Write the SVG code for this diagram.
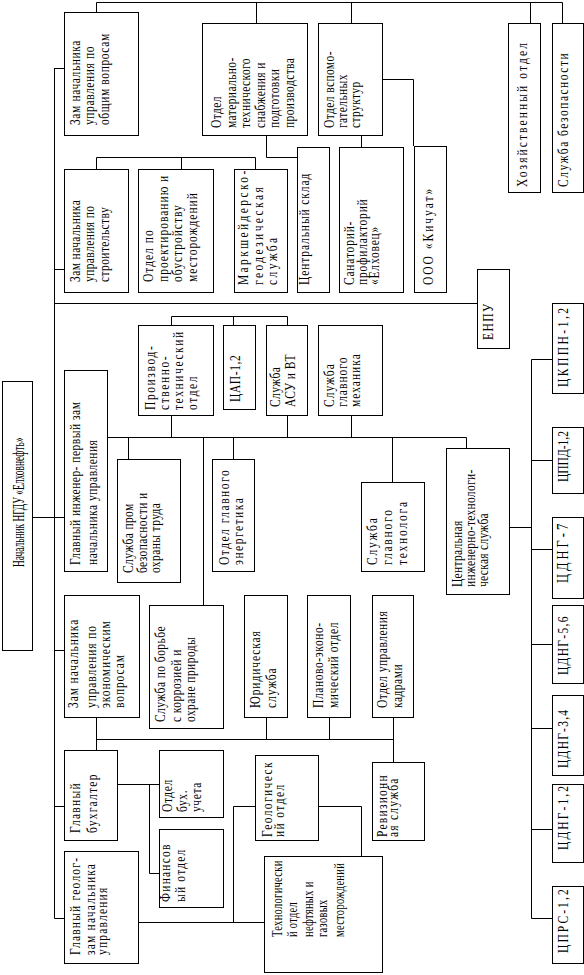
<svg xmlns="http://www.w3.org/2000/svg" width="584" height="975" viewBox="0 0 584 975">
<style>
.b{fill:#fff;stroke:#000;stroke-width:1}
.c{fill:none;stroke:#000;stroke-width:1}
.t{font-family:"Liberation Serif","Times New Roman",serif;font-size:11.5px;fill:#000}
</style>
<rect width="584" height="975" fill="#fff"/>
<g id="connectors">
<path class="c" d="M96.5 2.5H562.5M96.5 2.5V12M256.5 2.5V23M351.5 2.5V23M530.5 2.5V23M562.5 2.5V23"/>
<path class="c" d="M54.5 68V918.5M54.5 68.5H64M54.5 269.5H64M54.5 303.5H477M32 517.5H64M54.5 650.5H64M54.5 806.5H64M54.5 918.5H64"/>
<path class="c" d="M96.5 157.5H255.5M96.5 157.5V169M181.5 157.5V169M255.5 157.5V169"/>
<path class="c" d="M266.5 135V157.5H297M361.5 135V147M382 79.5H413.5V146"/>
<path class="c" d="M107 437.5H466.5V448M171.5 415V437.5M287.5 415V437.5M351.5 415V437.5M128.5 437.5V459M203.5 437.5V605M233.5 437.5V459M392.5 437.5V482"/>
<path class="c" d="M171.5 316.5H287.5M171.5 316.5V325M233.5 316.5V325M287.5 316.5V325"/>
<path class="c" d="M509 527.5H531.5M531.5 359.5V918.5M531.5 359.5H552M531.5 460.5H552M531.5 549.5H552M531.5 644.5H552M531.5 728.5H552M531.5 829.5H552M531.5 918.5H552"/>
<path class="c" d="M96.5 717V750M96.5 739.5H393.5M266.5 717V739.5M329.5 717V739.5M393.5 717V762"/>
<path class="c" d="M117 784.5H159M149.5 784.5V873.5H159"/>
<path class="c" d="M138 922.5H264M233.5 922.5V806.5H255M318 806.5H361.5V856"/>
</g>
<g id="nachalnik"><rect class="b" x="2.5" y="381.5" width="30" height="269"/>
<text class="t" style="font-size:9.4px" transform="translate(24,567) rotate(-90) scale(1,1.7)"><tspan x="0" y="0">Начальник НГДУ «Елховнефть»</tspan></text></g>
<g id="zam-obsh"><rect class="b" x="64.5" y="12.5" width="74" height="123"/>
<text class="t" letter-spacing="0.6" transform="translate(80,125) rotate(-90) scale(1,1.3)"><tspan x="0" y="0">Зам начальника</tspan><tspan x="0" y="11.15">управления по</tspan><tspan x="0" y="22.3">общим вопросам</tspan></text></g>
<g id="zam-stroi"><rect class="b" x="64.5" y="169.5" width="64" height="123"/>
<text class="t" letter-spacing="0.4" transform="translate(80,282) rotate(-90) scale(1,1.3)"><tspan x="0" y="0">Зам начальника</tspan><tspan x="0" y="11.15">управления по</tspan><tspan x="0" y="22.3">строительству</tspan></text></g>
<g id="proekt"><rect class="b" x="138.5" y="169.5" width="75" height="123"/>
<text class="t" letter-spacing="1" transform="translate(153,282) rotate(-90) scale(1,1.3)"><tspan x="0" y="0">Отдел по</tspan><tspan x="0" y="11.3">проектированию и</tspan><tspan x="0" y="22.6">обустройству</tspan><tspan x="0" y="33.9">месторождений</tspan></text></g>
<g id="marksh"><rect class="b" x="234.5" y="169.5" width="53" height="123"/>
<text class="t" letter-spacing="2.4" transform="translate(248,285) rotate(-90) scale(1,1.3)"><tspan x="0" y="0">Маркшейдерско-</tspan><tspan x="0" y="11.5">геодезическая</tspan><tspan x="0" y="22.3">служба</tspan></text></g>
<g id="mto"><rect class="b" x="202.5" y="23.5" width="105" height="112"/>
<text class="t" letter-spacing="0.4" transform="translate(221,128) rotate(-90) scale(1,1.3)"><tspan x="0" y="0">Отдел</tspan><tspan x="0" y="11.23">материально-</tspan><tspan x="0" y="22.46">технического</tspan><tspan x="0" y="33.7">снабжения и</tspan><tspan x="0" y="44.9">подготовки</tspan><tspan x="0" y="56.2">производства</tspan></text></g>
<g id="sklad"><rect class="b" x="297.5" y="147.5" width="32" height="145"/>
<text class="t" letter-spacing="0.9" transform="translate(309,285) rotate(-90) scale(1,1.3)"><tspan x="0" y="0">Центральный склад</tspan></text></g>
<g id="vspom"><rect class="b" x="318.5" y="23.5" width="64" height="112"/>
<text class="t" letter-spacing="0.4" transform="translate(334,128) rotate(-90) scale(1,1.3)"><tspan x="0" y="0">Отдел вспомо-</tspan><tspan x="0" y="10">гательных</tspan><tspan x="0" y="20">структур</tspan></text></g>
<g id="sanat"><rect class="b" x="339.5" y="147.5" width="64" height="145"/>
<text class="t" letter-spacing="0.8" transform="translate(354,285) rotate(-90) scale(1,1.3)"><tspan x="0" y="0">Санаторий-</tspan><tspan x="0" y="10">профилакторий</tspan><tspan x="0" y="19.2">«Елховец»</tspan></text></g>
<g id="kichuat"><rect class="b" x="414.5" y="146.5" width="32" height="146"/>
<text class="t" letter-spacing="2" transform="translate(433,285) rotate(-90) scale(1,1.3)"><tspan x="0" y="0">ООО «Кичуат»</tspan></text></g>
<g id="hoz"><rect class="b" x="508.5" y="23.5" width="32" height="169"/>
<text class="t" letter-spacing="2.1" transform="translate(527,187) rotate(-90) scale(1,1.3)"><tspan x="0" y="0">Хозяйственный отдел</tspan></text></g>
<g id="sb"><rect class="b" x="552.5" y="23.5" width="31" height="169"/>
<text class="t" letter-spacing="1.5" transform="translate(568,187) rotate(-90) scale(1,1.3)"><tspan x="0" y="0">Служба безопасности</tspan></text></g>
<g id="enpu"><rect class="b" x="477.5" y="269.5" width="32" height="79"/>
<text class="t" letter-spacing="1.5" transform="translate(493,340) rotate(-90) scale(1,1.3)"><tspan x="0" y="0">ЕНПУ</tspan></text></g>
<g id="gl-ing"><rect class="b" x="64.5" y="370.5" width="43" height="201"/>
<text class="t" letter-spacing="0.5" transform="translate(80,565) rotate(-90) scale(1,1.3)"><tspan x="0" y="0">Главный инженер- первый зам</tspan><tspan x="0" y="13.1">начальника управления</tspan></text></g>
<g id="pto"><rect class="b" x="138.5" y="325.5" width="75" height="90"/>
<text class="t" letter-spacing="1.6" transform="translate(155,410) rotate(-90) scale(1,1.3)"><tspan x="0" y="0">Производ-</tspan><tspan x="0" y="10.77">ственно-</tspan><tspan x="0" y="21.5">технический</tspan><tspan x="0" y="32.3">отдел</tspan></text></g>
<g id="cap"><rect class="b" x="223.5" y="325.5" width="32" height="84"/>
<text class="t" letter-spacing="0.6" transform="translate(240,402) rotate(-90) scale(1,1.3)"><tspan x="0" y="0">ЦАП-1,2</tspan></text></g>
<g id="asu"><rect class="b" x="266.5" y="325.5" width="41" height="90"/>
<text class="t" letter-spacing="0.4" transform="translate(280,407) rotate(-90) scale(1,1.3)"><tspan x="0" y="0">Служба</tspan><tspan x="0" y="11.5">АСУ и ВТ</tspan></text></g>
<g id="meh"><rect class="b" x="318.5" y="325.5" width="64" height="90"/>
<text class="t" letter-spacing="1" transform="translate(334,407) rotate(-90) scale(1,1.3)"><tspan x="0" y="0">Служба</tspan><tspan x="0" y="10">главного</tspan><tspan x="0" y="20">механика</tspan></text></g>
<g id="prom"><rect class="b" x="117.5" y="459.5" width="63" height="123"/>
<text class="t" letter-spacing="0.4" transform="translate(133,573) rotate(-90) scale(1,1.3)"><tspan x="0" y="0">Служба пром</tspan><tspan x="0" y="10.8">безопасности и</tspan><tspan x="0" y="20.8">охраны труда</tspan></text></g>
<g id="energ"><rect class="b" x="212.5" y="459.5" width="42" height="112"/>
<text class="t" letter-spacing="1.5" transform="translate(229,565) rotate(-90) scale(1,1.3)"><tspan x="0" y="0">Отдел главного</tspan><tspan x="0" y="10.8">энергетика</tspan></text></g>
<g id="tehnolog"><rect class="b" x="361.5" y="482.5" width="63" height="89"/>
<text class="t" letter-spacing="1.8" transform="translate(377,565) rotate(-90) scale(1,1.3)"><tspan x="0" y="0">Служба</tspan><tspan x="0" y="11.5">главного</tspan><tspan x="0" y="23">технолога</tspan></text></g>
<g id="cits"><rect class="b" x="446.5" y="448.5" width="63" height="146"/>
<text class="t" letter-spacing="0.3" transform="translate(462,587) rotate(-90) scale(1,1.3)"><tspan x="0" y="0">Центральная</tspan><tspan x="0" y="10">инженерно-технологи-</tspan><tspan x="0" y="20">ческая служба</tspan></text></g>
<g id="korr"><rect class="b" x="149.5" y="605.5" width="74" height="123"/>
<text class="t" letter-spacing="0.45" transform="translate(165,722) rotate(-90) scale(1,1.3)"><tspan x="0" y="0">Служба по борьбе</tspan><tspan x="0" y="12.3">с коррозией и</tspan><tspan x="0" y="23.1">охране природы</tspan></text></g>
<g id="zam-econ"><rect class="b" x="64.5" y="595.5" width="75" height="122"/>
<text class="t" letter-spacing="0.9" transform="translate(78,708) rotate(-90) scale(1,1.3)"><tspan x="0" y="0">Зам начальника</tspan><tspan x="0" y="13.8">управления по</tspan><tspan x="0" y="24.6">экономическим</tspan><tspan x="0" y="35.4">вопросам</tspan></text></g>
<g id="jur"><rect class="b" x="244.5" y="595.5" width="43" height="122"/>
<text class="t" letter-spacing="0.9" transform="translate(260,708) rotate(-90) scale(1,1.3)"><tspan x="0" y="0">Юридическая</tspan><tspan x="0" y="12.3">служба</tspan></text></g>
<g id="plan"><rect class="b" x="307.5" y="595.5" width="43" height="122"/>
<text class="t" letter-spacing="0.6" transform="translate(323,708) rotate(-90) scale(1,1.3)"><tspan x="0" y="0">Планово-эконо-</tspan><tspan x="0" y="11.5">мический отдел</tspan></text></g>
<g id="kadr"><rect class="b" x="372.5" y="595.5" width="41" height="122"/>
<text class="t" letter-spacing="0.5" transform="translate(387,708) rotate(-90) scale(1,1.3)"><tspan x="0" y="0">Отдел управления</tspan><tspan x="0" y="11.5">кадрами</tspan></text></g>
<g id="buh"><rect class="b" x="64.5" y="750.5" width="53" height="90"/>
<text class="t" letter-spacing="1.25" transform="translate(80,833) rotate(-90) scale(1,1.3)"><tspan x="0" y="0">Главный</tspan><tspan x="0" y="13.1">бухгалтер</tspan></text></g>
<g id="buhuch"><rect class="b" x="159.5" y="750.5" width="64" height="67"/>
<text class="t" letter-spacing="0.6" transform="translate(172,812) rotate(-90) scale(1,1.3)"><tspan x="0" y="0">Отдел</tspan><tspan x="0" y="11.2">бух.</tspan><tspan x="0" y="22.3">учета</tspan></text></g>
<g id="fin"><rect class="b" x="159.5" y="829.5" width="64" height="78"/>
<text class="t" letter-spacing="1.2" transform="translate(170,902) rotate(-90) scale(1,1.3)"><tspan x="0" y="0">Финансов</tspan><tspan x="0" y="11.5">ый отдел</tspan></text></g>
<g id="gl-geolog"><rect class="b" x="64.5" y="851.5" width="74" height="112"/>
<text class="t" letter-spacing="1.2" transform="translate(80,955) rotate(-90) scale(1,1.3)"><tspan x="0" y="0">Главный геолог-</tspan><tspan x="0" y="11.5">зам начальника</tspan><tspan x="0" y="20.8">управления</tspan></text></g>
<g id="geol-otd"><rect class="b" x="255.5" y="755.5" width="63" height="85"/>
<text class="t" letter-spacing="1.4" transform="translate(272,837) rotate(-90) scale(1,1.3)"><tspan x="0" y="0">Геологическ</tspan><tspan x="0" y="9.2">ий отдел</tspan></text></g>
<g id="tehn-otd"><rect class="b" x="264.5" y="856.5" width="118" height="116"/>
<text class="t" style="font-size:10.5px" letter-spacing="0.3" transform="translate(282,937) rotate(-90) scale(1,1.3)"><tspan x="0" y="0">Технологически</tspan><tspan x="0" y="11.5">й отдел</tspan><tspan x="0" y="23.8">нефтяных и</tspan><tspan x="0" y="34.6">газовых</tspan><tspan x="0" y="47.7">месторождений</tspan></text></g>
<g id="reviz"><rect class="b" x="372.5" y="762.5" width="52" height="78"/>
<text class="t" letter-spacing="1.25" transform="translate(387,837) rotate(-90) scale(1,1.3)"><tspan x="0" y="0">Ревизионн</tspan><tspan x="0" y="8.5">ая служба</tspan></text></g>
<g id="ckppn"><rect class="b" x="552.5" y="303.5" width="31" height="90"/>
<text class="t" letter-spacing="2.5" transform="translate(568,387) rotate(-90) scale(1,1.3)"><tspan x="0" y="0">ЦКППН-1,2</tspan></text></g>
<g id="cppd"><rect class="b" x="552.5" y="427.5" width="31" height="66"/>
<text class="t" letter-spacing="0" transform="translate(568,482) rotate(-90) scale(1,1.3)"><tspan x="0" y="0">ЦППД-1,2</tspan></text></g>
<g id="cdng7"><rect class="b" x="552.5" y="517.5" width="31" height="81"/>
<text class="t" style="font-size:12.5px" letter-spacing="3" transform="translate(568,583) rotate(-90) scale(1,1.3)"><tspan x="0" y="0">ЦДНГ-7</tspan></text></g>
<g id="cdng56"><rect class="b" x="552.5" y="605.5" width="31" height="78"/>
<text class="t" letter-spacing="1.3" transform="translate(568,675) rotate(-90) scale(1,1.3)"><tspan x="0" y="0">ЦДНГ-5,6</tspan></text></g>
<g id="cdng34"><rect class="b" x="552.5" y="695.5" width="31" height="80"/>
<text class="t" letter-spacing="1.25" transform="translate(568,768) rotate(-90) scale(1,1.3)"><tspan x="0" y="0">ЦДНГ-3,4</tspan></text></g>
<g id="cdng12"><rect class="b" x="552.5" y="784.5" width="31" height="78"/>
<text class="t" letter-spacing="2.1" transform="translate(568,850) rotate(-90) scale(1,1.3)"><tspan x="0" y="0">ЦДНГ-1,2</tspan></text></g>
<g id="cprs"><rect class="b" x="552.5" y="886.5" width="31" height="77"/>
<text class="t" letter-spacing="2.1" transform="translate(568,953) rotate(-90) scale(1,1.3)"><tspan x="0" y="0">ЦПРС-1,2</tspan></text></g>
</svg>
